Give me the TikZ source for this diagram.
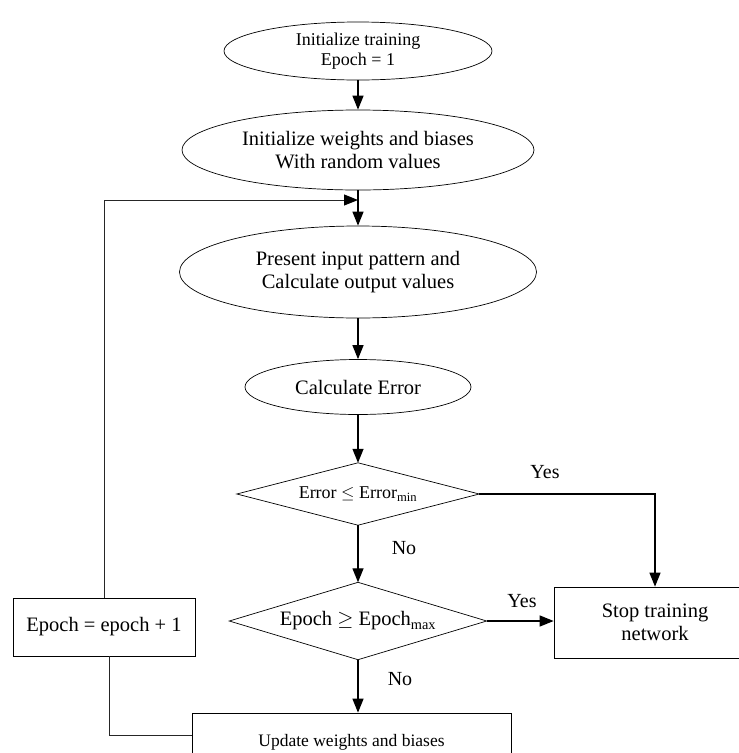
\documentclass[tikz,border=0pt]{standalone}
\usepackage{fontspec}
\setmainfont{Liberation Serif}
\usetikzlibrary{shapes.geometric,arrows.meta,calc}
\begin{document}
\begin{tikzpicture}[x=1pt,y=-1pt,
 shp/.style={draw, line width=0.7pt, inner sep=0pt, align=center},
 ell/.style={shp, ellipse},
 dia/.style={inner sep=0pt, align=center, rectangle},
 box/.style={shp, rectangle},
 arr/.style={line width=1.3pt, -{Triangle[length=14pt,width=11pt]}},
 fb/.style={line width=1pt, draw=black!85},
 lbl/.style={font=\fontsize{20}{23}\selectfont},
 big/.style={font=\fontsize{20.5}{23.5}\selectfont},
 small/.style={font=\fontsize{18}{20}\selectfont}
]
\useasboundingbox (0,0) rectangle (739,753);
\clip (0,0) rectangle (739,753);

\node[ell, small, minimum width=268, minimum height=58] (e1) at (358,51) {Initialize training\\Epoch = 1};
\node[ell, big, minimum width=352, minimum height=80] (e2) at (358,150) {Initialize weights and biases\\With random values};
\node[ell, big, minimum width=357, minimum height=92] (e3) at (358,272) {Present input pattern and\\Calculate output values};
\node[ell, big, minimum width=226, minimum height=55] (e4) at (358,387) {Calculate Error};
\node[dia, small, minimum width=242, minimum height=62] (d1) at (358,494) {Error $\leq$ Error\textsubscript{min}};
\draw[line width=0.7pt] (d1.north) -- (d1.east) -- (d1.south) -- (d1.west) -- cycle;
\node[dia, big, minimum width=257, minimum height=77] (d2) at (358,621) {Epoch $\geq$ Epoch\textsubscript{max}};
\draw[line width=0.7pt] (d2.north) -- (d2.east) -- (d2.south) -- (d2.west) -- cycle;
\node[box, big, minimum width=202, minimum height=71] (stop) at (655,622.5) {Stop training\\network};
\node[box, big, minimum width=182, minimum height=58] (ep) at (104,627) {Epoch = epoch + 1};
\node[box, font=\fontsize{17.5}{20}\selectfont, minimum width=319, minimum height=58] (upd) at (351.5,742) {Update weights and biases};

\coordinate (j) at (358,200);
\coordinate (c1) at (109,735);

\draw[arr] (e1.south) -- (e2.north);
\draw[arr] (e2.south) -- (e3.north);
\draw[arr] (e3.south) -- (e4.north);
\draw[arr] (e4.south) -- (d1.north);
\draw[arr] (d1.east) -| (stop.north);
\draw[arr] (d1.south) -- (d2.north);
\draw[arr] (d2.east) -- (d2.east -| stop.west);
\draw[arr] (d2.south) -- (d2.south |- upd.north);
\draw[fb] (upd.west |- c1) -- (c1) -- (c1 |- ep.south);
\draw[fb] (ep.north) -- (ep.north |- j) -- ($(j)+(-8,0)$);
\draw[arr, line width=1pt] ($(j)+(-10,0)$) -- (j);

\node[lbl] at (545,472) {Yes};
\node[lbl] at (404,548) {No};
\node[lbl] at (522,601) {Yes};
\node[lbl] at (400,679) {No};
\end{tikzpicture}
\end{document}
